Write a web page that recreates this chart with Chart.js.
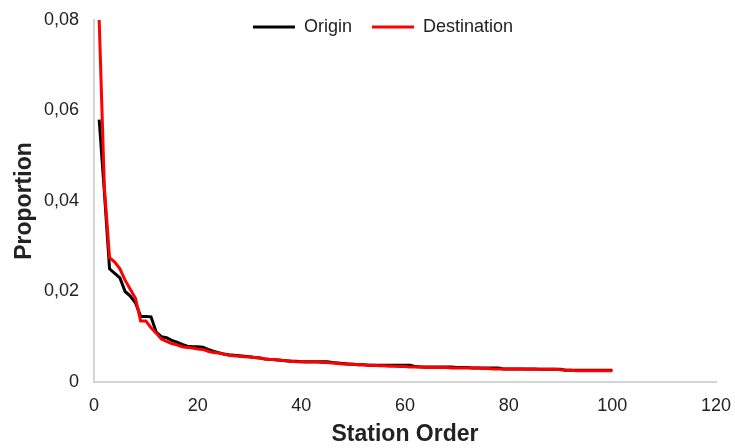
<!DOCTYPE html>
<html>
<head>
<meta charset="utf-8">
<script src="https://cdn.jsdelivr.net/npm/chart.js@4.4.1/dist/chart.umd.min.js"></script>
<style>
  html, body { margin: 0; padding: 0; background: #fff; }
  #wrap { width: 735px; height: 448px; }
</style>
</head>
<body>
<div id="wrap"><canvas id="chart" width="735" height="448"></canvas></div>
<script>
// Station order (x) and the proportion of trips per station
const stationOrder = [
  1, 2, 3, 4, 5, 6, 7, 8, 9, 10,
  11, 12, 13, 14, 15, 16, 17, 18, 19, 20,
  21, 22, 23, 24, 25, 26, 27, 28, 29, 30,
  31, 32, 33, 34, 35, 36, 37, 38, 39, 40,
  41, 42, 43, 44, 45, 46, 47, 48, 49, 50,
  51, 52, 53, 54, 55, 56, 57, 58, 59, 60,
  61, 62, 63, 64, 65, 66, 67, 68, 69, 70,
  71, 72, 73, 74, 75, 76, 77, 78, 79, 80,
  81, 82, 83, 84, 85, 86, 87, 88, 89, 90,
  91, 92, 93, 94, 95, 96, 97, 98, 99, 100
];

const originValues = [
  0.058, 0.042, 0.025, 0.024, 0.023, 0.020, 0.019, 0.0175, 0.0145, 0.0145,
  0.0144, 0.011, 0.010, 0.0098, 0.0092, 0.0088, 0.0083, 0.0079, 0.0078, 0.0078,
  0.0077, 0.0072, 0.0068, 0.0065, 0.0062, 0.0060, 0.0059, 0.0058, 0.0057, 0.0056,
  0.0054, 0.0053, 0.0051, 0.0050, 0.0049, 0.0048, 0.0047, 0.0046, 0.0046, 0.0045,
  0.0045, 0.0045, 0.0045, 0.0045, 0.0045, 0.0043, 0.0042, 0.0041, 0.0040, 0.0039,
  0.0038, 0.0038, 0.0037, 0.0037, 0.0037, 0.0037, 0.0037, 0.0037, 0.0037, 0.0037,
  0.0037, 0.0034, 0.0033, 0.0033, 0.0033, 0.0033, 0.0033, 0.0033, 0.0033, 0.0032,
  0.0032, 0.0032, 0.0031, 0.0031, 0.0031, 0.0031, 0.0031, 0.0031, 0.0029, 0.0029,
  0.0029, 0.0029, 0.0029, 0.0029, 0.0029, 0.0028, 0.0028, 0.0028, 0.0028, 0.0028,
  0.0026, 0.0026, 0.0026, 0.0026, 0.0026, 0.0026, 0.0026, 0.0026, 0.0026, 0.0026
];

const destinationValues = [
  0.080, 0.043, 0.0275, 0.0265, 0.025, 0.0225, 0.0205, 0.0185, 0.0135, 0.0135,
  0.012, 0.0108, 0.0095, 0.0090, 0.0085, 0.0082, 0.0078, 0.0076, 0.0075, 0.0073,
  0.0072, 0.0068, 0.0065, 0.0064, 0.0062, 0.0059, 0.0058, 0.0057, 0.0056, 0.0055,
  0.0054, 0.0053, 0.0051, 0.0050, 0.0049, 0.0048, 0.0047, 0.0046, 0.0045, 0.0045,
  0.0044, 0.0044, 0.0044, 0.0043, 0.0043, 0.0042, 0.0041, 0.0040, 0.0039, 0.0039,
  0.0038, 0.0038, 0.0037, 0.0037, 0.0036, 0.0036, 0.0035, 0.0035, 0.0034, 0.0034,
  0.0033, 0.0033, 0.0033, 0.0032, 0.0032, 0.0032, 0.0032, 0.0032, 0.0031, 0.0031,
  0.0031, 0.0031, 0.0031, 0.0031, 0.0030, 0.0030, 0.0029, 0.0029, 0.0029, 0.0029,
  0.0029, 0.0029, 0.0028, 0.0028, 0.0028, 0.0028, 0.0028, 0.0028, 0.0028, 0.0027,
  0.0026, 0.0026, 0.0025, 0.0025, 0.0025, 0.0025, 0.0025, 0.0025, 0.0025, 0.0025
];

const xTicks = [0, 20, 40, 60, 80, 100, 120];
const yTicks = [0, 0.02, 0.04, 0.06, 0.08];

const FONT = 'Liberation Sans, Arial, sans-serif';
const TEXT = '#222';
const AXIS = '#d4d4d4';

const toPoints = vals => stationOrder.map((x, i) => ({ x: x, y: vals[i] }));

// legend sits inside the plot: it takes no layout space and is moved into place
const legendInPlot = {
  id: 'legendInPlot',
  beforeLayout(chart) {
    const lg = chart.legend;
    if (lg && !lg._inPlot) {
      const fit = lg.fit;
      lg.fit = function () {
        fit.call(this);
        this._fullHeight = this.height;
        this.height = 0;
      };
      lg._inPlot = true;
    }
  },
  afterLayout(chart) {
    const lg = chart.legend;
    if (lg) {
      lg.top -= 22;
      lg.height = lg._fullHeight;
      lg.bottom = lg.top + lg.height;
      lg.left += 25;
      lg.right += 25;
    }
  }
};

new Chart(document.getElementById('chart'), {
  type: 'line',
  data: {
    datasets: [
      {
        label: 'Origin',
        data: toPoints(originValues),
        borderColor: '#000000',
        backgroundColor: '#000000',
        borderWidth: 3,
        pointRadius: 0,
        tension: 0,
        order: 1
      },
      {
        label: 'Destination',
        data: toPoints(destinationValues),
        borderColor: '#ff0000',
        backgroundColor: '#ff0000',
        borderWidth: 3,
        pointRadius: 0,
        tension: 0,
        order: 0
      }
    ]
  },
  options: {
    responsive: false,
    animation: false,
    layout: { padding: { top: 20, right: 19, bottom: 0, left: 0 } },
    plugins: {
      tooltip: { enabled: false },
      legend: {
        position: 'top',
        align: 'center',
        labels: {
          boxWidth: 42,
          boxHeight: 3,
          padding: 20,
          color: TEXT,
          font: { family: FONT, size: 18 },
          sort: (a, b) => a.datasetIndex - b.datasetIndex,
          generateLabels(chart) {
            const items = Chart.defaults.plugins.legend.labels.generateLabels(chart);
            items.forEach(it => { it.lineWidth = 0; });
            return items;
          }
        }
      }
    },
    scales: {
      x: {
        type: 'linear',
        min: 0,
        max: 120,
        afterBuildTicks: s => { s.ticks = xTicks.map(v => ({ value: v })); },
        afterFit: s => { s.height = 66; s.paddingLeft = 0; s.paddingRight = 0; },
        grid: { display: false, drawTicks: false },
        border: { display: true, color: AXIS, width: 2 },
        ticks: {
          color: TEXT,
          padding: 13,
          font: { family: FONT, size: 18 },
          maxRotation: 0
        },
        title: {
          display: true,
          text: 'Station Order',
          color: TEXT,
          padding: { top: 0, bottom: 0 },
          font: { family: FONT, size: 23, weight: 'bold' }
        }
      },
      y: {
        min: 0,
        max: 0.08,
        afterBuildTicks: s => { s.ticks = yTicks.map(v => ({ value: v })); },
        afterFit: s => { s.width = 94; s.paddingTop = 0; s.paddingBottom = 0; },
        grid: { display: false, drawTicks: false },
        border: { display: true, color: AXIS, width: 2 },
        ticks: {
          color: TEXT,
          padding: 15,
          font: { family: FONT, size: 18 },
          callback: v => v === 0 ? '0' : v.toFixed(2).replace('.', ',')
        },
        title: {
          display: true,
          text: 'Proportion',
          color: TEXT,
          padding: { top: 11, bottom: 0 },
          font: { family: FONT, size: 23, weight: 'bold' }
        }
      }
    }
  },
  plugins: [legendInPlot]
});
</script>
</body>
</html>
